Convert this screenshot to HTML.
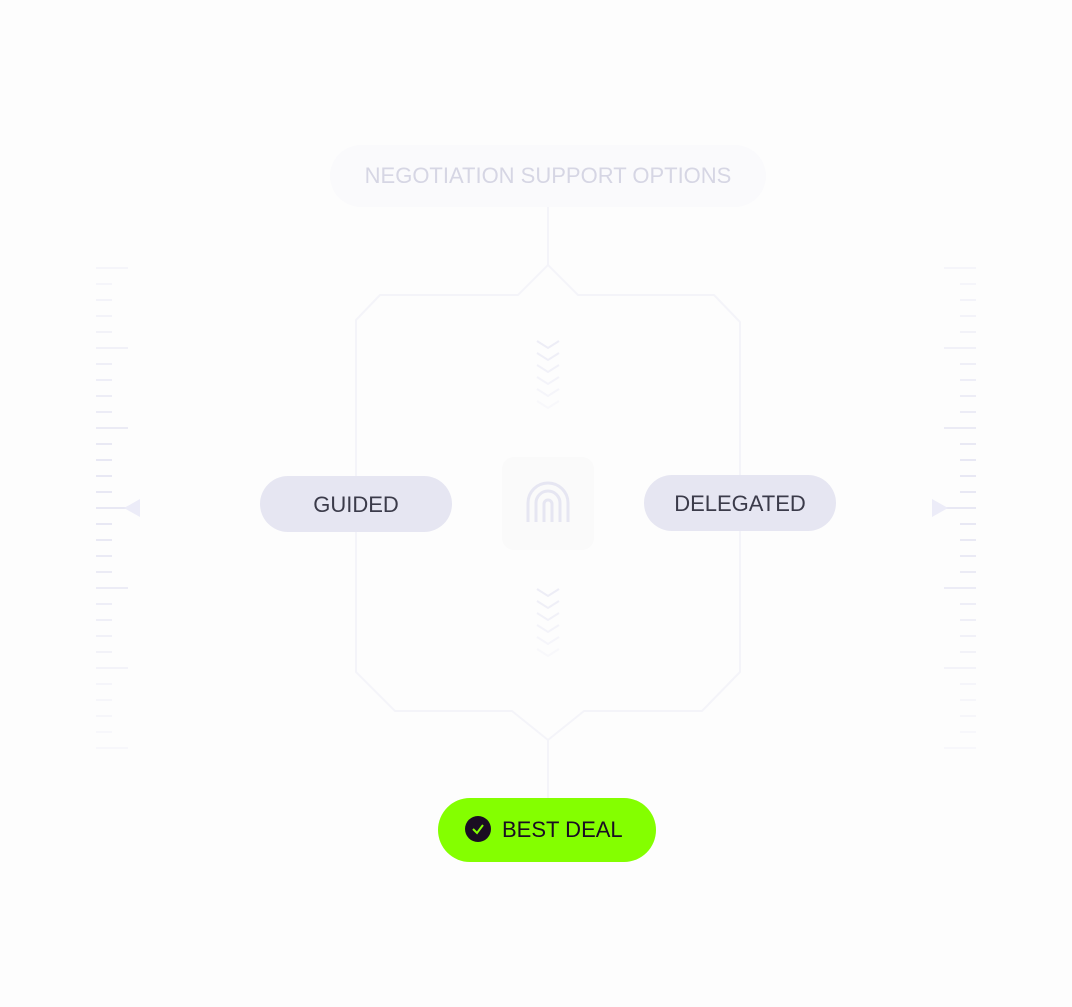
<!DOCTYPE html>
<html><head><style>
html,body{margin:0;padding:0;background:#fdfdfd;}
svg{display:block;}
text{font-family:"Liberation Sans",sans-serif;}
</style></head><body>
<svg width="1072" height="1007" viewBox="0 0 1072 1007" xmlns="http://www.w3.org/2000/svg">
<rect width="1072" height="1007" fill="#fdfdfd"/>
<rect x="330" y="145" width="436" height="62" rx="31" fill="#fafafc"/>
<text x="548" y="183" text-anchor="middle" font-size="22" fill="#d6d6e4">NEGOTIATION SUPPORT OPTIONS</text>
<g fill="none" stroke="#f4f4f9" stroke-width="2" stroke-linejoin="round">
<line x1="548" y1="207" x2="548" y2="265"/>
<path d="M548 265 L518 295 L380 295 L356 320 L356 672 L395 711 L512 711 L548 740 L584 711 L702 711 L740 672 L740 322 L714 295 L578 295 Z"/>
<line x1="548" y1="740" x2="548" y2="798"/>
</g>
<g id="tk" stroke-width="2">
<line x1="96" y1="268" x2="128" y2="268" stroke="#f5f5fa"/>
<line x1="96" y1="284" x2="112" y2="284" stroke="#f5f5fa"/>
<line x1="96" y1="300" x2="112" y2="300" stroke="#f3f3f9"/>
<line x1="96" y1="316" x2="112" y2="316" stroke="#f3f3f9"/>
<line x1="96" y1="332" x2="112" y2="332" stroke="#f2f2f8"/>
<line x1="96" y1="348" x2="128" y2="348" stroke="#f1f1f8"/>
<line x1="96" y1="364" x2="112" y2="364" stroke="#efeff7"/>
<line x1="96" y1="380" x2="112" y2="380" stroke="#eeeef7"/>
<line x1="96" y1="396" x2="112" y2="396" stroke="#ededf6"/>
<line x1="96" y1="412" x2="112" y2="412" stroke="#ececf6"/>
<line x1="96" y1="428" x2="128" y2="428" stroke="#ebebf5"/>
<line x1="96" y1="444" x2="112" y2="444" stroke="#e9e9f4"/>
<line x1="96" y1="460" x2="112" y2="460" stroke="#e8e8f4"/>
<line x1="96" y1="476" x2="112" y2="476" stroke="#e8e8f4"/>
<line x1="96" y1="492" x2="112" y2="492" stroke="#e8e8f4"/>
<line x1="96" y1="508" x2="128" y2="508" stroke="#e8e8f4"/>
<line x1="96" y1="524" x2="112" y2="524" stroke="#e8e8f4"/>
<line x1="96" y1="540" x2="112" y2="540" stroke="#e9e9f4"/>
<line x1="96" y1="556" x2="112" y2="556" stroke="#eaeaf5"/>
<line x1="96" y1="572" x2="112" y2="572" stroke="#ebebf5"/>
<line x1="96" y1="588" x2="128" y2="588" stroke="#ececf6"/>
<line x1="96" y1="604" x2="112" y2="604" stroke="#eeeef7"/>
<line x1="96" y1="620" x2="112" y2="620" stroke="#efeff7"/>
<line x1="96" y1="636" x2="112" y2="636" stroke="#f1f1f8"/>
<line x1="96" y1="652" x2="112" y2="652" stroke="#f2f2f8"/>
<line x1="96" y1="668" x2="128" y2="668" stroke="#f3f3f9"/>
<line x1="96" y1="684" x2="112" y2="684" stroke="#f5f5fa"/>
<line x1="96" y1="700" x2="112" y2="700" stroke="#f6f6fa"/>
<line x1="96" y1="716" x2="112" y2="716" stroke="#f6f6fa"/>
<line x1="96" y1="732" x2="112" y2="732" stroke="#f7f7fb"/>
<line x1="96" y1="748" x2="128" y2="748" stroke="#f7f7fb"/>
<polygon points="124,508 140,499 140,517" fill="#ececf8" stroke="none"/>
</g>
<use href="#tk" transform="translate(1072,0) scale(-1,1)"/>
<g fill="none" stroke-width="2">
<polyline points="537,341 548,348 559,341" stroke="#ededf6"/>
<polyline points="537,353 548,360 559,353" stroke="#efeff7"/>
<polyline points="537,365 548,372 559,365" stroke="#f1f1f8"/>
<polyline points="537,377 548,384 559,377" stroke="#f3f3f9"/>
<polyline points="537,389 548,396 559,389" stroke="#f5f5fa"/>
<polyline points="537,401 548,408 559,401" stroke="#f8f8fb"/>
<polyline points="537,589 548,596 559,589" stroke="#ededf6"/>
<polyline points="537,601 548,608 559,601" stroke="#efeff7"/>
<polyline points="537,613 548,620 559,613" stroke="#f1f1f8"/>
<polyline points="537,625 548,632 559,625" stroke="#f3f3f9"/>
<polyline points="537,637 548,644 559,637" stroke="#f5f5fa"/>
<polyline points="537,649 548,656 559,649" stroke="#f8f8fb"/>
</g>
<rect x="502" y="457" width="92" height="93" rx="12" fill="#fafafa"/>
<g fill="none" stroke="#e6e6f2" stroke-width="3">
<path d="M528 522 V503 A20 20 0 0 1 568 503 V522"/>
<path d="M536 522 V503 A12 12 0 0 1 560 503 V522"/>
<path d="M544 522 V504 A4 4 0 0 1 552 504 V522"/>
</g>
<rect x="260" y="476" width="192" height="56" rx="28" fill="#e6e6f2"/>
<text x="356" y="512" text-anchor="middle" font-size="22" fill="#3b3b4a">GUIDED</text>
<rect x="644" y="475" width="192" height="56" rx="28" fill="#e6e6f2"/>
<text x="740" y="511" text-anchor="middle" font-size="22" fill="#3b3b4a">DELEGATED</text>
<rect x="438" y="798" width="218" height="64" rx="32" fill="#84ff00"/>
<circle cx="478" cy="829" r="13" fill="#1a0d22"/>
<polyline points="473,829 477,833 483,825" fill="none" stroke="#84ff00" stroke-width="2"/>
<text x="502" y="837" font-size="22" fill="#1a0d22">BEST DEAL</text>
</svg>
</body></html>
